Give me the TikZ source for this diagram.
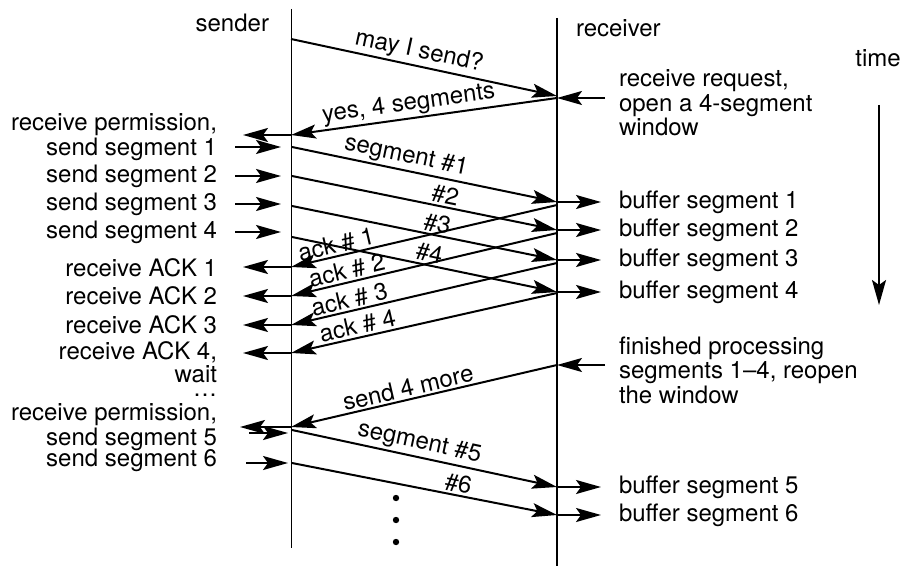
\documentclass[tikz,border=0pt]{standalone}
\usepackage{fontspec}
\setmainfont{TeX Gyre Heros}
\usetikzlibrary{arrows.meta}

\begin{document}
\begin{tikzpicture}[x=0.5pt, y=-0.5pt, line width=1pt,
  every node/.style={font=\fontsize{12}{10}\selectfont, inner sep=1pt},
  tip/.style={-{Stealth[length=12.5pt, width=7pt, inset=2.5pt]}},
  along/.style={sloped, above, inner sep=1pt}]
  \useasboundingbox (0,0) rectangle (903,566);

  % the two lines
  \coordinate (S top) at (291,9);  \coordinate (S bot) at (291,548);
  \coordinate (R top) at (557,18); \coordinate (R bot) at (557,566);
  \draw[line width=0.5pt] (S top) -- (S bot);
  \draw[line width=1.1pt] (R top) -- (R bot);
  \node[anchor=east] (sender) at (272,23) {sender};
  \node[anchor=west] (receiver) at (573,28) {receiver};
  \node (time) at (878,58) {time};
  \coordinate (T top) at (879,105); \coordinate (T bot) at (879,305);
  \draw[tip] (T top) -- (T bot);

  % request and permission
  \coordinate (S req) at (291,39); \coordinate (R req) at (557,96);
  \draw[tip] (S req) -- node[along, pos=.47] (may) {may I send?} (R req);
  \coordinate (R ok) at (557,98); \coordinate (S ok) at (291,135);
  \draw[tip] (R ok) -- node[along, pos=.55] (yes) {yes, 4 segments} (S ok);
  \coordinate (R ok in) at (605,98);
  \draw[tip] (R ok in) -- (R ok);
  \node[anchor=west, align=left] (request) at (616,103) {receive request,\\open a 4-segment\\window};
  \coordinate (S ok out) at (243,135);
  \draw[tip] (S ok) -- (S ok out);
  \node[anchor=east, align=right] (perm1) at (220,137) {receive permission,\\send segment 1};

  % first window
  \foreach \i/\ys/\yr/\txt/\p in {1/147/202/segment \#1/.42, 2/176/230/\#2/.57,
                                  3/206/260/\#3/.54, 4/237/292/\#4/.51}{
    \coordinate (S seg\i) at (292,\ys);
    \coordinate (R seg\i) at (557,\yr);
    \draw[tip] (S seg\i) -- node[along, pos=\p] (seg label \i) {\txt} (R seg\i);
    \coordinate (R buf\i) at (601,\yr);
    \draw[tip] (R seg\i) -- (R buf\i);
    \node[anchor=west] (buf\i) at (616,\yr) {buffer segment \i};
  }
  \foreach \i/\y in {1/147, 2/176, 3/204, 4/232}{
    \coordinate (S in\i) at (235,\y); \coordinate (S go\i) at (281,\y);
    \draw[tip] (S in\i) -- (S go\i);
  }
  \foreach \i/\y in {2/176, 3/204, 4/232}
    \node[anchor=east] (send\i) at (220,\y) {send segment \i};

  % acks
  \foreach \i/\yr/\ys/\p in {1/205/267/.82, 2/233/296/.78, 3/263/325/.77, 4/293/353/.74}{
    \coordinate (R ack\i) at (557,\yr); \coordinate (S ack\i) at (291,\ys);
    \draw[tip] (R ack\i) -- node[along, pos=\p] (ack label \i) {ack \# \i} (S ack\i);
    \coordinate (S got\i) at (243,\ys);
    \draw[tip] (S ack\i) -- (S got\i);
  }
  \foreach \i/\y in {1/268, 2/296, 3/325}
    \node[anchor=east] (rack\i) at (220,\y) {receive ACK \i};
  \node[anchor=east, align=right] (rack4) at (220,362) {receive ACK 4,\\wait};
  \node[anchor=east] (etc) at (220,395) {\dots};

  % window reopened
  \coordinate (R more) at (557,365); \coordinate (S more) at (291,427);
  \draw[tip] (R more) -- node[along, pos=.55] (more) {send 4 more} (S more);
  \coordinate (R fin) at (605,365);
  \draw[tip] (R fin) -- (R more);
  \node[anchor=west, align=left] (finished) at (616,370) {finished processing\\segments 1--4, reopen\\the window};
  \coordinate (S more out) at (240,427);
  \draw[tip] (S more) -- (S more out);
  \node[anchor=east, align=right] (perm2) at (220,427) {receive permission,\\send segment 5};

  \foreach \i/\ya/\xa/\ys/\yr/\txt/\p in {5/433/249/430/487/segment \#5/.47, 6/463/246/463/515/\#6/.62}{
    \coordinate (S in\i) at (\xa,\ya); \coordinate (S go\i) at (288,\ya);
    \draw[tip] (S in\i) -- (S go\i);
    \coordinate (S seg\i) at (292,\ys);
    \coordinate (R seg\i) at (557,\yr);
    \draw[tip] (S seg\i) -- node[along, pos=\p] (seg label \i) {\txt} (R seg\i);
    \coordinate (R buf\i) at (601,\yr);
    \draw[tip] (R seg\i) -- (R buf\i);
    \node[anchor=west] (buf\i) at (616,\yr) {buffer segment \i};
  }
  \node[anchor=east] (send6) at (220,460) {send segment 6};

  \foreach \y [count=\k] in {498,520,542}
    \node[circle, fill, inner sep=0pt, minimum size=3.2pt] (dot\k) at (396,\y) {};
\end{tikzpicture}
\end{document}
